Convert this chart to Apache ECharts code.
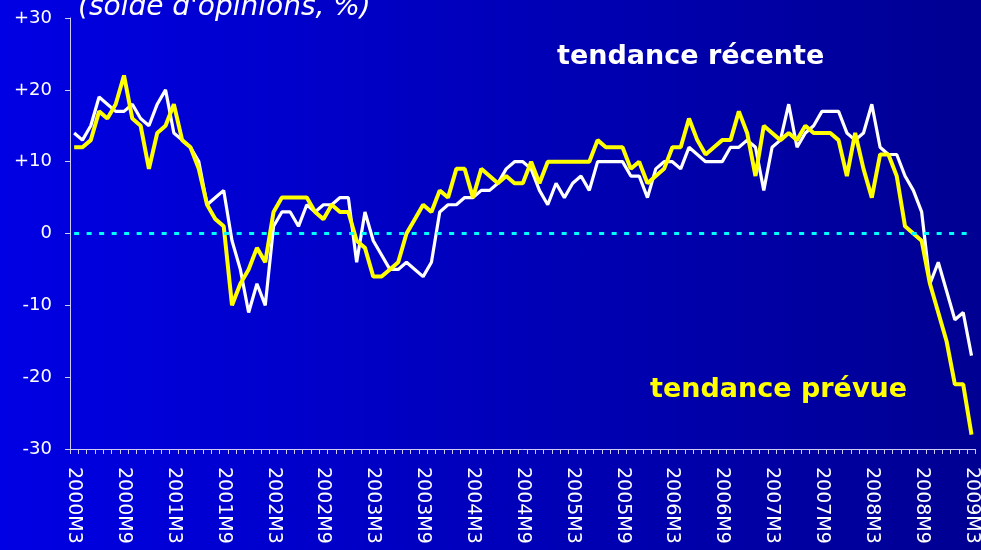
<!DOCTYPE html>
<html>
<head>
<meta charset="utf-8">
<script src="https://cdn.jsdelivr.net/npm/echarts@6/dist/echarts.min.js"></script>
<style>
  html, body { margin: 0; padding: 0; }
  #chart { width: 981px; height: 550px; background: linear-gradient(to right, #0000e4, #000092); }
</style>
</head>
<body>
<div id="chart"></div>
<script>
// months 2000M3 .. 2009M3
const firstYear = 2000, firstMonth = 3, nMonths = 109;
const months = [];
for (let k = 0; k < nMonths; k++) {
    const m = firstMonth - 1 + k;
    months.push((firstYear + Math.floor(m / 12)) + 'M' + (m % 12 + 1));
}

// tendance récente (blanc)
const recente = [
    14, 13, 15, 19, 18, 17, 17, 18, 16, 15, 18, 20,
    14, 13, 12, 10, 4, 5, 6, -1, -5, -11, -7, -10,
    1, 3, 3, 1, 4, 3, 4, 4, 5, 5, -4, 3,
    -1, -3, -5, -5, -4, -5, -6, -4, 3, 4, 4, 5,
    5, 6, 6, 7, 9, 10, 10, 9, 6, 4, 7, 5,
    7, 8, 6, 10, 10, 10, 10, 8, 8, 5, 9, 10,
    10, 9, 12, 11, 10, 10, 10, 12, 12, 13, 12, 6,
    12, 13, 18, 12, 14, 15, 17, 17, 17, 14, 13, 14,
    18, 12, 11, 11, 8, 6, 3, -7, -4, -8, -12, -11,
    -17
];

// tendance prévue (jaune)
const prevue = [
    12, 12, 13, 17, 16, 18, 22, 16, 15, 9, 14, 15,
    18, 13, 12, 9, 4, 2, 1, -10, -7, -5, -2, -4,
    3, 5, 5, 5, 5, 3, 2, 4, 3, 3, -1, -2,
    -6, -6, -5, -4, 0, 2, 4, 3, 6, 5, 9, 9,
    5, 9, 8, 7, 8, 7, 7, 10, 7, 10, 10, 10,
    10, 10, 10, 13, 12, 12, 12, 9, 10, 7, 8, 9,
    12, 12, 16, 13, 11, 12, 13, 13, 17, 14, 8, 15,
    14, 13, 14, 13, 15, 14, 14, 14, 13, 8, 14, 9,
    5, 11, 11, 8, 1, 0, -1, -7, -11, -15, -21, -21,
    -28
];

const yTicks = [-30, -20, -10, 0, 10, 20, 30];
const refLevel = 0;

let myChart = echarts.init(document.getElementById('chart'));

let option = {
    animation: false,
    backgroundColor: 'transparent',
    grid: { left: 70, right: 4, top: 18, bottom: 101 },
    xAxis: {
        type: 'category',
        data: months,
        boundaryGap: true,
        axisLine: { onZero: false, lineStyle: { color: '#ccccf4', width: 1 } },
        axisTick: { show: true, interval: 0, length: 5, lineStyle: { color: '#ccccf4' } },
        axisLabel: {
            interval: 5,
            rotate: -90,
            margin: 18,
            color: '#ffffff',
            fontFamily: 'DejaVu Sans',
            fontSize: 19
        },
        splitLine: { show: false }
    },
    yAxis: {
        type: 'value',
        min: yTicks[0],
        max: yTicks[yTicks.length - 1],
        interval: 10,
        axisLine: { show: true, lineStyle: { color: '#ccccf4', width: 1 } },
        axisTick: { show: true, length: 5, lineStyle: { color: '#ccccf4' } },
        axisLabel: {
            margin: 18,
            color: '#ffffff',
            fontFamily: 'DejaVu Sans',
            fontSize: 18,
            formatter: function (v) { return v > 0 ? '+' + v : '' + v; }
        },
        splitLine: { show: false }
    },
    series: [{
        name: 'tendance récente',
        type: 'line',
        data: recente,
        symbol: 'none',
        lineStyle: { color: '#ffffff', width: 3.2 },
        z: 2
    }, {
        name: 'tendance prévue',
        type: 'line',
        data: prevue,
        symbol: 'none',
        lineStyle: { color: '#ffff00', width: 4 },
        markLine: {
            silent: true,
            symbol: 'none',
            label: { show: false },
            emphasis: { disabled: true },
            lineStyle: { color: '#00ffff', width: 3, type: [5, 7.5], opacity: 1 },
            data: [[{ coord: [months[0], refLevel] }, { coord: [months[nMonths - 1], refLevel] }]]
        },
        z: 3
    }],
    graphic: [{
        type: 'text',
        left: 78,
        top: -6,
        style: {
            text: "(solde d'opinions, %)",
            fill: '#ffffff',
            fontFamily: 'DejaVu Sans',
            fontStyle: 'italic',
            fontSize: 28
        }
    }, {
        type: 'text',
        left: 557,
        top: 43,
        style: {
            text: 'tendance récente',
            fill: '#ffffff',
            fontFamily: 'DejaVu Sans',
            fontWeight: 'bold',
            fontSize: 27
        }
    }, {
        type: 'text',
        left: 650,
        top: 376,
        style: {
            text: 'tendance prévue',
            fill: '#ffff00',
            fontFamily: 'DejaVu Sans',
            fontWeight: 'bold',
            fontSize: 27
        }
    }]
};

myChart.setOption(option);
</script>
</body>
</html>
